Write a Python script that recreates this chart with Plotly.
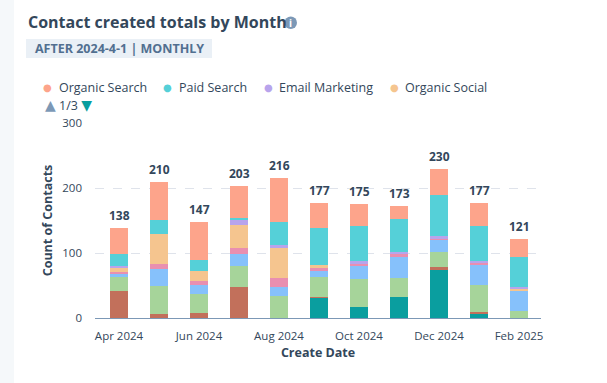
import plotly.graph_objects as go

months = ["Apr 2024", "May 2024", "Jun 2024", "Jul 2024", "Aug 2024", "Sep 2024",
          "Oct 2024", "Nov 2024", "Dec 2024", "Jan 2025", "Feb 2025"]
tick_labels = ["Apr 2024", "Jun 2024", "Aug 2024", "Oct 2024", "Dec 2024", "Feb 2025"]

# stacked bottom -> top
other_campaigns = [0, 0, 0, 0, 0, 32, 17, 33, 74, 7, 0]
paid_social = [41, 6, 8, 48, 0, 1, 0, 0, 5, 3, 0]
offline_sources = [22, 43, 29, 32, 34, 30, 43, 28, 23, 41, 11]
direct_traffic = [4, 26, 14, 18, 14, 10, 20, 33, 18, 30, 32]
referrals = [4, 8, 6, 9, 14, 4, 3, 4, 2, 4, 0]
organic_social = [6, 47, 16, 36, 45, 4, 0, 0, 0, 0, 2]
email_marketing = [3, 0, 0, 8, 6, 0, 4, 4, 4, 2, 2]
paid_search = [18, 21, 17, 3, 34, 58, 55, 50, 64, 54, 47]
organic_search = [40, 59, 57, 49, 69, 38, 33, 21, 40, 36, 27]

series = [
    ("Other Campaigns", other_campaigns, "#0a9e9f"),
    ("Paid Social", paid_social, "#c2705b"),
    ("Offline Sources", offline_sources, "#a6d49a"),
    ("Direct Traffic", direct_traffic, "#86c1fb"),
    ("Referrals", referrals, "#e98fb0"),
    ("Organic Social", organic_social, "#f5c58f"),
    ("Email Marketing", email_marketing, "#b8a4ec"),
    ("Paid Search", paid_search, "#55d0d8"),
    ("Organic Search", organic_search, "#fda48b"),
]
# legend page 1 of 3 (as shown in the reference)
legend_page = ["Organic Search", "Paid Search", "Email Marketing", "Organic Social"]
legend_marker_x = [47.5, 167.5, 268, 394]   # layout positions (px)

FONT = "Open Sans"
DARK = "#33475b"

fig = go.Figure()
for name, vals, color in series:
    fig.add_trace(go.Bar(
        x=months, y=vals, name=name, marker=dict(color=color, line=dict(width=0)),
        showlegend=False, hoverinfo="skip",
    ))

W, H = 607, 383
L, R, T, B = 95, 66, 123, 65
pw, ph = W - L - R, H - T - B

def px(x):
    return (x - L) / pw

def py(y):
    return (H - B - y) / ph

annotations = []
totals = [sum(v[i] for _, v, _ in series) for i in range(len(months))]
for m, t in zip(months, totals):
    annotations.append(dict(x=m, y=t, xref="x", yref="y", text=f"<b>{t}</b>",
                            showarrow=False, yanchor="bottom", yshift=2,
                            font=dict(family=FONT, size=12, color=DARK)))

colors = {n: c for n, _, c in series}
for name, mx in zip(legend_page, legend_marker_x):
    annotations.append(dict(xref="paper", yref="paper", x=px(mx), y=py(87), xanchor="center",
                            yanchor="middle", text="●", showarrow=False,
                            font=dict(family="DejaVu Sans", size=10, color=colors[name])))
    annotations.append(dict(xref="paper", yref="paper", x=px(mx + 9), y=py(87), xanchor="left",
                            yanchor="middle", text=name, showarrow=False,
                            font=dict(family=FONT, size=12.5, color=DARK)))

shapes = [
    dict(type="rect", xref="paper", yref="paper", x0=px(0), x1=px(14), y0=py(H), y1=py(0),
         fillcolor="#f5f8fa", line=dict(width=0), layer="below"),
    dict(type="rect", xref="paper", yref="paper", x0=px(26), x1=px(212), y0=py(58), y1=py(39),
         fillcolor="#eaf0f6", line=dict(width=0), layer="below"),
    dict(type="circle", xref="paper", yref="paper", x0=px(284.5), x1=px(297), y0=py(29), y1=py(16.5),
         fillcolor="#7c98b6", line=dict(width=0)),
]

annotations += [
    dict(xref="paper", yref="paper", x=px(26), y=py(22), xanchor="left", yanchor="middle",
         text="<b>Contact created totals by Month</b>", showarrow=False,
         font=dict(family=FONT, size=16, color=DARK)),
    dict(xref="paper", yref="paper", x=px(290.8), y=py(22.5), xanchor="center", yanchor="middle",
         text="<b>i</b>", showarrow=False, font=dict(family=FONT, size=10, color="white")),
    dict(xref="paper", yref="paper", x=px(33), y=py(48), xanchor="left", yanchor="middle",
         text="<b>AFTER 2024-4-1 | MONTHLY</b>", showarrow=False,
         font=dict(family=FONT, size=12.5, color="#516f90")),
    dict(xref="paper", yref="paper", x=px(43), y=py(105), xanchor="left", yanchor="middle",
         text="<span style='color:#7c98b6;font-family:DejaVu Sans;font-size:14px'>▲</span> 1/3 "
              "<span style='color:#0a9e9f;font-family:DejaVu Sans;font-size:14px'>▼</span>",
         showarrow=False, font=dict(family=FONT, size=12.5, color=DARK)),
]

fig.update_layout(
    width=W, height=H,
    margin=dict(l=L, r=R, t=T, b=B, pad=0, autoexpand=False),
    paper_bgcolor="white", plot_bgcolor="white",
    barmode="stack", bargap=0.54,
    font=dict(family=FONT, size=12, color=DARK),
    showlegend=False,
    xaxis=dict(
        type="category", range=[-0.6, 10.55], tickmode="array",
        tickvals=tick_labels, ticktext=tick_labels, showgrid=False,
        showline=True, linecolor="#7c98b6", linewidth=1, ticks="",
        tickfont=dict(family=FONT, size=11.5, color=DARK), automargin=False,
        ticklabelstandoff=7,
        title=dict(text="<b>Create Date</b>", font=dict(family=FONT, size=12.5, color=DARK), standoff=6),
        fixedrange=True,
    ),
    yaxis=dict(
        range=[0, 300], tickvals=[0, 100, 200, 300], showgrid=True,
        gridcolor="#dfe3eb", griddash="dash", gridwidth=1, zeroline=False,
        tickfont=dict(family=FONT, size=11.5, color=DARK), ticks="", ticklabelstandoff=12,
        automargin=False,
        title=dict(text="<b>Count of Contacts</b>", font=dict(family=FONT, size=12.5, color=DARK), standoff=6),
        fixedrange=True,
    ),
    shapes=shapes, annotations=annotations,
)

fig.write_html("out.html", config={"displayModeBar": False},
               post_script="document.body.style.margin='0';")
